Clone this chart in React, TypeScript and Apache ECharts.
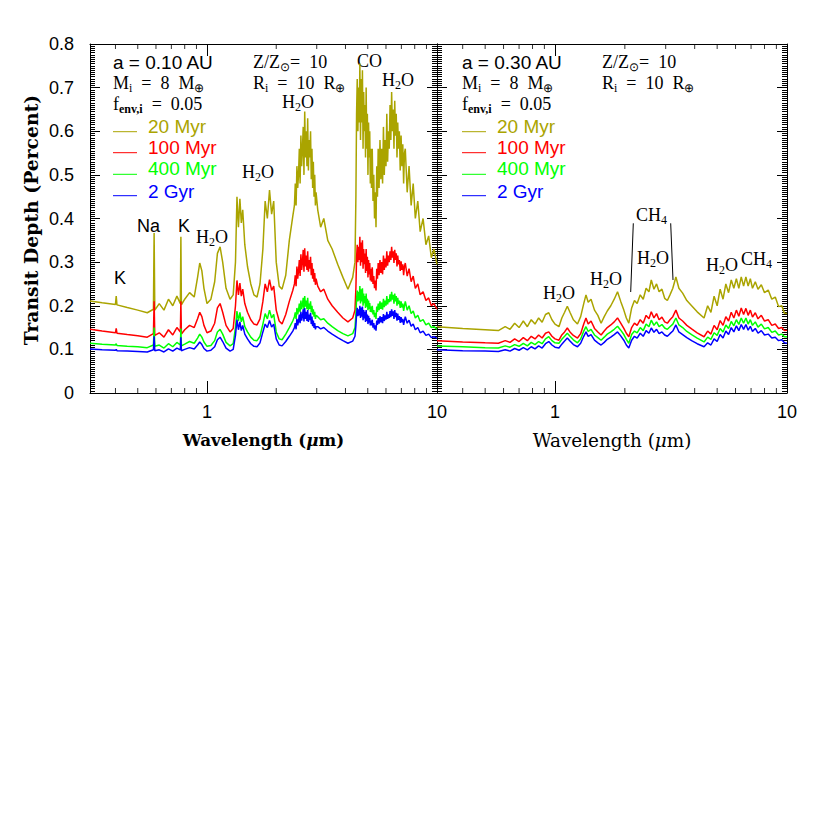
import React, { useEffect, useRef } from 'react';
import * as echarts from 'echarts';

// ---------- Left panel (a = 0.10 AU) ----------
const W1 = [
  0.31, 0.35, 0.40, 0.403, 0.406, 0.45, 0.50, 0.55,
  0.585, 0.589, 0.593,
  0.62, 0.65, 0.68, 0.71, 0.74,
  0.766, 0.77, 0.774,
  0.80, 0.84, 0.88, 0.91, 0.93, 0.95, 0.97, 1.00,
  1.04, 1.08, 1.11, 1.14, 1.17, 1.21, 1.26, 1.30,
  1.33, 1.35, 1.37, 1.39, 1.41, 1.43, 1.46,
  1.50, 1.55, 1.60, 1.65, 1.70, 1.75,
  1.79, 1.83, 1.87, 1.91, 1.95,
  2.00, 2.06, 2.12, 2.20, 2.28, 2.36,
  2.40, 2.42, 2.44, 2.46, 2.48, 2.50, 2.52, 2.54, 2.56, 2.58,
  2.60, 2.62, 2.64, 2.66, 2.68, 2.70, 2.72, 2.74, 2.76, 2.78,
  2.80, 2.82, 2.84, 2.86, 2.88, 2.90, 2.92, 2.94, 2.96, 2.98,
  3.03, 3.12, 3.22, 3.35, 3.50, 3.70, 3.90, 4.10, 4.30,
  4.40, 4.44, 4.47, 4.50, 4.53, 4.56, 4.59, 4.62, 4.65, 4.68, 4.71, 4.74, 4.77,
  4.80, 4.83, 4.86, 4.89, 4.92, 4.95, 4.98, 5.01, 5.04, 5.07, 5.10, 5.13, 5.16,
  5.19, 5.23, 5.27, 5.31, 5.35, 5.39, 5.43, 5.47, 5.51, 5.55, 5.60,
  5.65, 5.70, 5.75, 5.80, 5.85, 5.90, 5.95, 6.00, 6.05, 6.10, 6.15,
  6.20, 6.25, 6.30, 6.35, 6.40, 6.45, 6.50, 6.55, 6.60, 6.65,
  6.70, 6.75, 6.80, 6.86, 6.92, 6.98, 7.04, 7.10, 7.16, 7.22,
  7.28, 7.42, 7.56, 7.72, 7.88, 8.05, 8.25, 8.45, 8.70, 8.95, 9.20, 9.45, 9.70, 10.0,
];

const olive1 = [
  0.211, 0.207, 0.203, 0.222, 0.202, 0.196, 0.190, 0.184,
  0.192, 0.367, 0.190,
  0.205, 0.190, 0.215, 0.200, 0.222,
  0.205, 0.358, 0.202,
  0.215, 0.230, 0.220, 0.265, 0.298, 0.280, 0.240, 0.205,
  0.215, 0.255, 0.320, 0.335, 0.300, 0.240, 0.215, 0.225,
  0.300, 0.450, 0.380, 0.445, 0.390, 0.420, 0.340,
  0.290, 0.250, 0.225, 0.220, 0.250, 0.330,
  0.440, 0.400, 0.465, 0.410, 0.440,
  0.300, 0.245, 0.238, 0.270, 0.350, 0.405,
  0.430, 0.480, 0.430, 0.520, 0.470, 0.500, 0.560, 0.480, 0.590, 0.520,
  0.560, 0.610, 0.500, 0.645, 0.540, 0.600, 0.520, 0.630, 0.510, 0.580,
  0.540, 0.600, 0.490, 0.560, 0.470, 0.530, 0.450, 0.500, 0.430, 0.460,
  0.420, 0.380, 0.400, 0.350, 0.330, 0.295, 0.265, 0.238, 0.265,
  0.300, 0.450, 0.640, 0.720, 0.600, 0.700, 0.620, 0.755, 0.580, 0.720, 0.620, 0.740, 0.560,
  0.690, 0.600, 0.660, 0.540, 0.700, 0.560, 0.640, 0.500, 0.620, 0.540, 0.600, 0.480, 0.560,
  0.470, 0.560, 0.440, 0.500, 0.400, 0.460, 0.380, 0.520, 0.450, 0.560, 0.470,
  0.580, 0.490, 0.560, 0.480, 0.610, 0.500, 0.580, 0.520, 0.640, 0.530, 0.600,
  0.560, 0.660, 0.580, 0.690, 0.600, 0.650, 0.560, 0.670, 0.590, 0.640,
  0.540, 0.620, 0.560, 0.600, 0.510, 0.590, 0.520, 0.570, 0.480, 0.550,
  0.560, 0.460, 0.520, 0.430, 0.480, 0.400, 0.440, 0.370, 0.400, 0.340, 0.360, 0.310, 0.330, 0.295,
];

const red1 = [
  0.146, 0.142, 0.138, 0.148, 0.137, 0.134, 0.131, 0.128,
  0.136, 0.210, 0.132,
  0.138, 0.128, 0.145, 0.133, 0.150,
  0.140, 0.210, 0.135,
  0.145, 0.155, 0.150, 0.170, 0.185, 0.175, 0.155, 0.138,
  0.142, 0.160, 0.195, 0.205, 0.185, 0.155, 0.140, 0.148,
  0.200, 0.258, 0.225, 0.252, 0.222, 0.238, 0.205,
  0.185, 0.168, 0.158, 0.156, 0.170, 0.210,
  0.250, 0.232, 0.260, 0.235, 0.245,
  0.190, 0.165, 0.158, 0.180, 0.210, 0.235,
  0.250, 0.270, 0.245, 0.290, 0.262, 0.280, 0.305, 0.268, 0.318, 0.282,
  0.300, 0.328, 0.278, 0.332, 0.290, 0.315, 0.282, 0.325, 0.278, 0.305,
  0.285, 0.312, 0.270, 0.298, 0.262, 0.285, 0.255, 0.275, 0.248, 0.262,
  0.245, 0.232, 0.238, 0.215, 0.200, 0.185, 0.172, 0.163, 0.172,
  0.190, 0.240, 0.310, 0.340, 0.300, 0.335, 0.305, 0.358, 0.292, 0.345, 0.300, 0.350, 0.285,
  0.330, 0.295, 0.320, 0.275, 0.330, 0.280, 0.312, 0.265, 0.305, 0.272, 0.298, 0.258, 0.285,
  0.255, 0.288, 0.250, 0.268, 0.240, 0.258, 0.235, 0.285, 0.262, 0.298, 0.270,
  0.305, 0.275, 0.300, 0.272, 0.315, 0.282, 0.308, 0.288, 0.325, 0.292, 0.315,
  0.300, 0.325, 0.305, 0.335, 0.310, 0.325, 0.298, 0.328, 0.305, 0.320,
  0.290, 0.315, 0.295, 0.305, 0.280, 0.302, 0.282, 0.295, 0.270, 0.290,
  0.298, 0.268, 0.285, 0.255, 0.268, 0.240, 0.250, 0.225, 0.232, 0.212, 0.218, 0.200, 0.205, 0.192,
];

const green1 = [
  0.114, 0.112, 0.110, 0.113, 0.109, 0.107, 0.106, 0.104,
  0.110, 0.150, 0.107,
  0.110, 0.103, 0.113, 0.106, 0.116,
  0.110, 0.148, 0.108,
  0.112, 0.118, 0.114, 0.126, 0.135, 0.128, 0.117, 0.107,
  0.109, 0.120, 0.140, 0.146, 0.135, 0.116, 0.108, 0.113,
  0.150, 0.188, 0.165, 0.185, 0.163, 0.175, 0.152,
  0.140, 0.128, 0.121, 0.120, 0.130, 0.158,
  0.182, 0.170, 0.190, 0.172, 0.180,
  0.140, 0.124, 0.122, 0.135, 0.150, 0.165,
  0.175, 0.185, 0.170, 0.195, 0.180, 0.190, 0.205, 0.185, 0.212, 0.192,
  0.202, 0.218, 0.190, 0.222, 0.198, 0.212, 0.192, 0.218, 0.190, 0.205,
  0.193, 0.210, 0.185, 0.200, 0.180, 0.192, 0.175, 0.186, 0.170, 0.178,
  0.175, 0.168, 0.170, 0.160, 0.152, 0.143, 0.136, 0.131, 0.136,
  0.150, 0.180, 0.215, 0.235, 0.210, 0.232, 0.212, 0.245, 0.205, 0.238, 0.210, 0.240, 0.200,
  0.228, 0.206, 0.222, 0.195, 0.228, 0.198, 0.216, 0.190, 0.212, 0.193, 0.206, 0.186, 0.198,
  0.185, 0.200, 0.180, 0.190, 0.174, 0.184, 0.170, 0.198, 0.186, 0.205, 0.190,
  0.210, 0.193, 0.207, 0.191, 0.216, 0.197, 0.212, 0.200, 0.222, 0.203, 0.215,
  0.208, 0.226, 0.210, 0.232, 0.214, 0.225, 0.205, 0.228, 0.210, 0.222,
  0.200, 0.218, 0.204, 0.212, 0.195, 0.210, 0.196, 0.205, 0.188, 0.200,
  0.210, 0.190, 0.200, 0.182, 0.188, 0.172, 0.178, 0.164, 0.168, 0.156, 0.160, 0.150, 0.152, 0.146,
];

const blue1 = [
  0.101, 0.099, 0.098, 0.100, 0.097, 0.096, 0.095, 0.094,
  0.099, 0.130, 0.097,
  0.099, 0.094, 0.101, 0.096, 0.103,
  0.099, 0.128, 0.097,
  0.100, 0.104, 0.101, 0.110, 0.117, 0.111, 0.102, 0.096,
  0.098, 0.106, 0.122, 0.128, 0.118, 0.103, 0.096, 0.100,
  0.132, 0.168, 0.145, 0.163, 0.143, 0.155, 0.135,
  0.124, 0.113, 0.107, 0.106, 0.115, 0.140,
  0.158, 0.150, 0.166, 0.151, 0.158,
  0.124, 0.110, 0.108, 0.118, 0.130, 0.142,
  0.150, 0.160, 0.146, 0.170, 0.155, 0.165, 0.180, 0.160, 0.186, 0.166,
  0.176, 0.192, 0.164, 0.195, 0.170, 0.186, 0.165, 0.190, 0.163, 0.180,
  0.167, 0.184, 0.158, 0.175, 0.153, 0.166, 0.149, 0.160, 0.146, 0.152,
  0.152, 0.147, 0.150, 0.142, 0.135, 0.127, 0.120, 0.114, 0.119,
  0.130, 0.155, 0.180, 0.195, 0.176, 0.192, 0.178, 0.200, 0.172, 0.196, 0.175, 0.198, 0.167,
  0.190, 0.171, 0.186, 0.163, 0.190, 0.165, 0.180, 0.158, 0.177, 0.161, 0.172, 0.155, 0.166,
  0.155, 0.168, 0.150, 0.160, 0.146, 0.155, 0.143, 0.166, 0.156, 0.172, 0.159,
  0.176, 0.162, 0.174, 0.160, 0.181, 0.165, 0.178, 0.168, 0.186, 0.170, 0.180,
  0.172, 0.188, 0.174, 0.192, 0.177, 0.187, 0.170, 0.190, 0.174, 0.184,
  0.166, 0.182, 0.168, 0.176, 0.161, 0.174, 0.162, 0.170, 0.156, 0.166,
  0.175, 0.160, 0.167, 0.153, 0.158, 0.145, 0.150, 0.138, 0.142, 0.132, 0.135, 0.127, 0.129, 0.125,
];

// ---------- Right panel (a = 0.30 AU) ----------
const W2 = [
  0.31, 0.40, 0.50, 0.57, 0.61, 0.64, 0.67, 0.70, 0.73, 0.76,
  0.79, 0.82, 0.85, 0.88, 0.91, 0.94, 0.97, 1.00, 1.04, 1.07,
  1.10, 1.13, 1.16, 1.20, 1.25, 1.29, 1.33, 1.36, 1.39, 1.43,
  1.48, 1.53, 1.58, 1.63, 1.68, 1.74, 1.80, 1.86, 1.92, 1.98,
  2.03, 2.08, 2.14, 2.20, 2.26, 2.33, 2.40, 2.47, 2.54, 2.60,
  2.67, 2.74, 2.81, 2.89, 2.97, 3.05, 3.13, 3.22, 3.32, 3.42,
  3.55, 3.70, 3.88, 4.10, 4.39, 4.55, 4.70, 4.85, 5.00, 5.15,
  5.30, 5.45, 5.60, 5.75, 5.90, 6.05, 6.20, 6.35, 6.50, 6.65,
  6.80, 6.95, 7.10, 7.30, 7.50, 7.75, 8.00, 8.30, 8.60, 8.90,
  9.20, 9.50, 9.75, 10.0,
];

const olive2 = [
  0.152, 0.148, 0.145, 0.143, 0.152, 0.146, 0.160, 0.150, 0.165, 0.152,
  0.168, 0.158, 0.172, 0.162, 0.180, 0.184, 0.168, 0.158, 0.152, 0.172,
  0.185, 0.199, 0.185, 0.168, 0.158, 0.175, 0.205, 0.225, 0.208, 0.215,
  0.190, 0.178, 0.160, 0.175, 0.188, 0.200, 0.215, 0.232, 0.210, 0.190,
  0.172, 0.160, 0.195, 0.212, 0.205, 0.225, 0.215, 0.240, 0.232, 0.259,
  0.238, 0.250, 0.232, 0.238, 0.217, 0.212, 0.225, 0.240, 0.266, 0.240,
  0.229, 0.212, 0.200, 0.186, 0.172, 0.200, 0.185, 0.222, 0.200, 0.238,
  0.215, 0.250, 0.230, 0.259, 0.240, 0.262, 0.240, 0.266, 0.245, 0.266,
  0.245, 0.262, 0.240, 0.255, 0.238, 0.248, 0.230, 0.236, 0.215, 0.220,
  0.198, 0.200, 0.183, 0.182,
];

const red2 = [
  0.120, 0.117, 0.115, 0.114, 0.120, 0.116, 0.124, 0.118, 0.127, 0.120,
  0.130, 0.124, 0.133, 0.126, 0.137, 0.140, 0.130, 0.124, 0.121, 0.133,
  0.140, 0.149, 0.140, 0.132, 0.126, 0.136, 0.158, 0.172, 0.158, 0.165,
  0.148, 0.140, 0.133, 0.142, 0.150, 0.156, 0.163, 0.172, 0.160, 0.148,
  0.137, 0.129, 0.150, 0.160, 0.155, 0.168, 0.160, 0.178, 0.170, 0.186,
  0.172, 0.182, 0.168, 0.174, 0.163, 0.160, 0.168, 0.175, 0.190, 0.172,
  0.165, 0.155, 0.147, 0.138, 0.129, 0.142, 0.135, 0.155, 0.145, 0.166,
  0.155, 0.175, 0.165, 0.185, 0.172, 0.190, 0.176, 0.195, 0.180, 0.194,
  0.178, 0.190, 0.174, 0.184, 0.170, 0.178, 0.165, 0.168, 0.155, 0.158,
  0.148, 0.150, 0.143, 0.144,
];

const green2 = [
  0.108, 0.106, 0.104, 0.103, 0.108, 0.105, 0.111, 0.107, 0.114, 0.108,
  0.116, 0.111, 0.118, 0.113, 0.124, 0.129, 0.120, 0.115, 0.114, 0.123,
  0.130, 0.137, 0.130, 0.122, 0.115, 0.124, 0.142, 0.152, 0.141, 0.146,
  0.133, 0.127, 0.121, 0.128, 0.135, 0.140, 0.146, 0.153, 0.144, 0.134,
  0.123, 0.114, 0.134, 0.142, 0.138, 0.150, 0.143, 0.158, 0.152, 0.167,
  0.155, 0.163, 0.152, 0.157, 0.149, 0.146, 0.152, 0.158, 0.172, 0.156,
  0.150, 0.141, 0.134, 0.126, 0.117, 0.128, 0.123, 0.138, 0.132, 0.148,
  0.140, 0.156, 0.148, 0.164, 0.154, 0.168, 0.157, 0.172, 0.160, 0.172,
  0.158, 0.168, 0.155, 0.163, 0.151, 0.158, 0.147, 0.150, 0.139, 0.142,
  0.133, 0.135, 0.129, 0.129,
];

const blue2 = [
  0.099, 0.097, 0.096, 0.095, 0.099, 0.096, 0.102, 0.098, 0.104, 0.099,
  0.106, 0.101, 0.108, 0.103, 0.113, 0.118, 0.110, 0.105, 0.103, 0.112,
  0.119, 0.126, 0.119, 0.111, 0.106, 0.114, 0.130, 0.140, 0.130, 0.134,
  0.121, 0.115, 0.110, 0.116, 0.123, 0.128, 0.134, 0.140, 0.131, 0.121,
  0.110, 0.103, 0.121, 0.130, 0.126, 0.137, 0.130, 0.143, 0.137, 0.149,
  0.139, 0.146, 0.136, 0.140, 0.133, 0.130, 0.136, 0.142, 0.156, 0.140,
  0.134, 0.127, 0.120, 0.113, 0.106, 0.115, 0.110, 0.124, 0.118, 0.134,
  0.126, 0.142, 0.134, 0.150, 0.140, 0.154, 0.143, 0.157, 0.146, 0.157,
  0.144, 0.153, 0.141, 0.148, 0.137, 0.143, 0.133, 0.135, 0.126, 0.128,
  0.120, 0.122, 0.115, 0.114,
];

// ---------- Axis tick positions / labels ----------
const xMinorTicks = [0.4, 0.5, 0.6, 0.7, 0.8, 0.9, 2, 3, 4, 5, 6, 7, 8, 9];
const xTickLabels = ['1', '10'];
const ageLabels = ['20 Myr', '100 Myr', '400 Myr', '2 Gyr'];
const ageColors = ['#aaa400', '#ff0000', '#00ff00', '#0000ff'];

const SANS = 'Liberation Sans';
const SERIF = 'Liberation Serif';

const RICH = {
  n: { fontFamily: SERIF, fontSize: 18, lineHeight: 22, fill: '#000' },
  s: { fontFamily: SERIF, fontSize: 12, lineHeight: 12, verticalAlign: 'bottom', fill: '#000' },
  sb: { fontFamily: SERIF, fontSize: 12, fontWeight: 'bold', lineHeight: 12, verticalAlign: 'bottom', fill: '#000' },
};

const richText = (x: number, y: number, text: string) => ({
  type: 'text',
  x,
  y,
  silent: true,
  style: { text, rich: RICH, align: 'left', verticalAlign: 'middle' },
});

const sansText = (x: number, y: number, text: string, fill = '#000', size = 19) => ({
  type: 'text',
  x,
  y,
  silent: true,
  style: { text, fontFamily: SANS, fontSize: size, fill, align: 'left', verticalAlign: 'middle' },
});

const H2O = '{n|H}{s|2}{n|O}';
const CH4 = '{n|CH}{s|4}';

function buildOption() {
  const xFormatter = (v: number) => {
    if (Math.abs(v - 1) < 1e-6) return xTickLabels[0];
    if (Math.abs(v - 10) < 1e-6) return xTickLabels[1];
    return '';
  };
  const xAxis = (gridIndex: number, position: string, showLabels: boolean) => ({
    type: 'log',
    logBase: 10,
    min: 0.31,
    max: 10,
    gridIndex,
    position,
    axisLine: { show: true, onZero: false, lineStyle: { color: '#000', width: 1 } },
    axisTick: { show: true, inside: true, length: 12, lineStyle: { color: '#000' } },
    minorTick: { show: false },
    splitLine: { show: false },
    axisLabel: {
      show: showLabels,
      formatter: xFormatter,
      color: '#000',
      fontFamily: SANS,
      fontSize: 18,
      margin: 10,
      showMinLabel: true,
      showMaxLabel: true,
    },
  });
  const yAxis = (gridIndex: number, position: string, showLabels: boolean) => ({
    type: 'value',
    min: 0,
    max: 0.8,
    interval: 0.1,
    gridIndex,
    position,
    axisLine: { show: true, onZero: false, lineStyle: { color: '#000', width: 1 } },
    axisTick: { show: true, inside: true, length: 10, lineStyle: { color: '#000' } },
    minorTick: { show: true, splitNumber: 20, length: 5, lineStyle: { color: '#000' } },
    splitLine: { show: false },
    axisLabel: { show: showLabels, color: '#000', fontFamily: SANS, fontSize: 18, margin: 16 },
  });

  const panels = [
    { xs: W1, ys: [olive1, red1, green1, blue1] },
    { xs: W2, ys: [olive2, red2, green2, blue2] },
  ];
  const series: any[] = [];
  panels.forEach((p, gi) => {
    p.ys.forEach((vals, si) => {
      series.push({
        type: 'line',
        name: ageLabels[si] + '-' + gi,
        xAxisIndex: gi * 2,
        yAxisIndex: gi * 2,
        data: p.xs.map((x, i) => [x, vals[i]]),
        showSymbol: false,
        symbol: 'none',
        lineStyle: { color: ageColors[si], width: 1.5 },
        itemStyle: { color: ageColors[si] },
        silent: true,
        z: 2 + si,
      });
    });
    series.push({
      type: 'scatter',
      xAxisIndex: gi * 2,
      yAxisIndex: gi * 2,
      data: xMinorTicks.map((x) => [x, 0]),
      symbol: 'rect',
      symbolSize: [1, 5],
      symbolOffset: [0, -2.5],
      itemStyle: { color: '#000' },
      silent: true,
      clip: false,
      z: 10,
    });
    series.push({
      type: 'scatter',
      xAxisIndex: gi * 2,
      yAxisIndex: gi * 2,
      data: xMinorTicks.map((x) => [x, 0.8]),
      symbol: 'rect',
      symbolSize: [1, 5],
      symbolOffset: [0, 2.5],
      itemStyle: { color: '#000' },
      silent: true,
      clip: false,
      z: 10,
    });
  });

  const legend = (x0: number, tx: number) => {
    const ys = [126.7, 147.3, 168.3, 191];
    const ly = [131.7, 152.7, 174.3, 195.7];
    const out: any[] = [];
    ageLabels.forEach((lab, i) => {
      out.push({
        type: 'line',
        silent: true,
        shape: { x1: x0, y1: ly[i], x2: x0 + 24, y2: ly[i] },
        style: { stroke: ageColors[i], lineWidth: 1 },
      });
      out.push(sansText(tx, ys[i], lab, ageColors[i]));
    });
    return out;
  };

  const graphic: any[] = [
    // left panel header
    sansText(113, 62, 'a = 0.10 AU'),
    richText(113, 83, '{n|M}{s|i}{n|  =  8  M}{s|⊕}'),
    richText(113, 104, '{n|f}{sb|env,i}{n|  =  0.05}'),
    richText(253, 62, '{n|Z/Z}{s|⊙}{n|=  10}'),
    richText(253, 83, '{n|R}{s|i}{n|  =  10  R}{s|⊕}'),
    ...legend(113, 148),
    // left panel features
    richText(357, 61, '{n|CO}'),
    richText(382, 80, H2O),
    richText(282, 102, H2O),
    richText(242, 172, H2O),
    sansText(137, 226, 'Na', '#000', 18),
    sansText(178, 226, 'K', '#000', 18),
    richText(196, 237, H2O),
    sansText(114, 278, 'K', '#000', 18),
    // right panel header
    sansText(462, 62, 'a = 0.30 AU'),
    richText(462, 83, '{n|M}{s|i}{n|  =  8  M}{s|⊕}'),
    richText(462, 104, '{n|f}{sb|env,i}{n|  =  0.05}'),
    richText(602, 62, '{n|Z/Z}{s|⊙}{n|=  10}'),
    richText(602, 83, '{n|R}{s|i}{n|  =  10  R}{s|⊕}'),
    ...legend(462, 497),
    // right panel features
    richText(543, 293, H2O),
    richText(590, 279, H2O),
    richText(636, 215, CH4),
    richText(637, 258, H2O),
    richText(706, 265, H2O),
    richText(741, 259, CH4),
    { type: 'line', silent: true, shape: { x1: 633.3, y1: 223.3, x2: 630.7, y2: 292 }, style: { stroke: '#000', lineWidth: 1 } },
    { type: 'line', silent: true, shape: { x1: 670.7, y1: 223.3, x2: 673, y2: 280 }, style: { stroke: '#000', lineWidth: 1 } },
    // axis titles
    {
      type: 'text',
      x: 31,
      y: 220,
      rotation: Math.PI / 2,
      silent: true,
      style: {
        text: 'Transit Depth (Percent)',
        fontFamily: 'DejaVu Serif',
        fontWeight: 'bold',
        fontSize: 18.8,
        fill: '#000',
        align: 'center',
        verticalAlign: 'middle',
      },
    },
    {
      type: 'text',
      x: 263.5,
      y: 440,
      silent: true,
      style: {
        text: '{b|Wavelength (}{bi|μ}{b|m)}',
        rich: {
          b: { fontFamily: 'DejaVu Serif', fontWeight: 'bold', fontSize: 16.8, fill: '#000' },
          bi: { fontFamily: 'DejaVu Serif', fontWeight: 'bold', fontStyle: 'italic', fontSize: 16.8, fill: '#000' },
        },
        align: 'center',
        verticalAlign: 'middle',
      },
    },
    {
      type: 'text',
      x: 612,
      y: 440,
      silent: true,
      style: {
        text: '{r|Wavelength (}{ri|μ}{r|m)}',
        rich: {
          r: { fontFamily: 'DejaVu Serif', fontSize: 18.4, fill: '#000' },
          ri: { fontFamily: 'DejaVu Serif', fontStyle: 'italic', fontSize: 18.4, fill: '#000' },
        },
        align: 'center',
        verticalAlign: 'middle',
      },
    },
  ];

  return {
    animation: false,
    backgroundColor: '#fff',
    grid: [
      { left: 90, top: 44, width: 347, height: 349 },
      { left: 437, top: 44, width: 350, height: 349 },
    ],
    xAxis: [xAxis(0, 'bottom', true), xAxis(0, 'top', false), xAxis(1, 'bottom', true), xAxis(1, 'top', false)],
    yAxis: [yAxis(0, 'left', true), yAxis(0, 'right', false), yAxis(1, 'left', false), yAxis(1, 'right', false)],
    series,
    graphic,
  };
}

export default function App() {
  const ref = useRef<HTMLDivElement>(null);
  useEffect(() => {
    if (!ref.current) return;
    const chart = echarts.init(ref.current, null, { renderer: 'svg' });
    chart.setOption(buildOption() as any);
    return () => chart.dispose();
  }, []);
  return (
    <div
      ref={ref}
      style={{ position: 'absolute', left: 0, top: 0, width: 830, height: 830, background: '#fff' }}
    />
  );
}
